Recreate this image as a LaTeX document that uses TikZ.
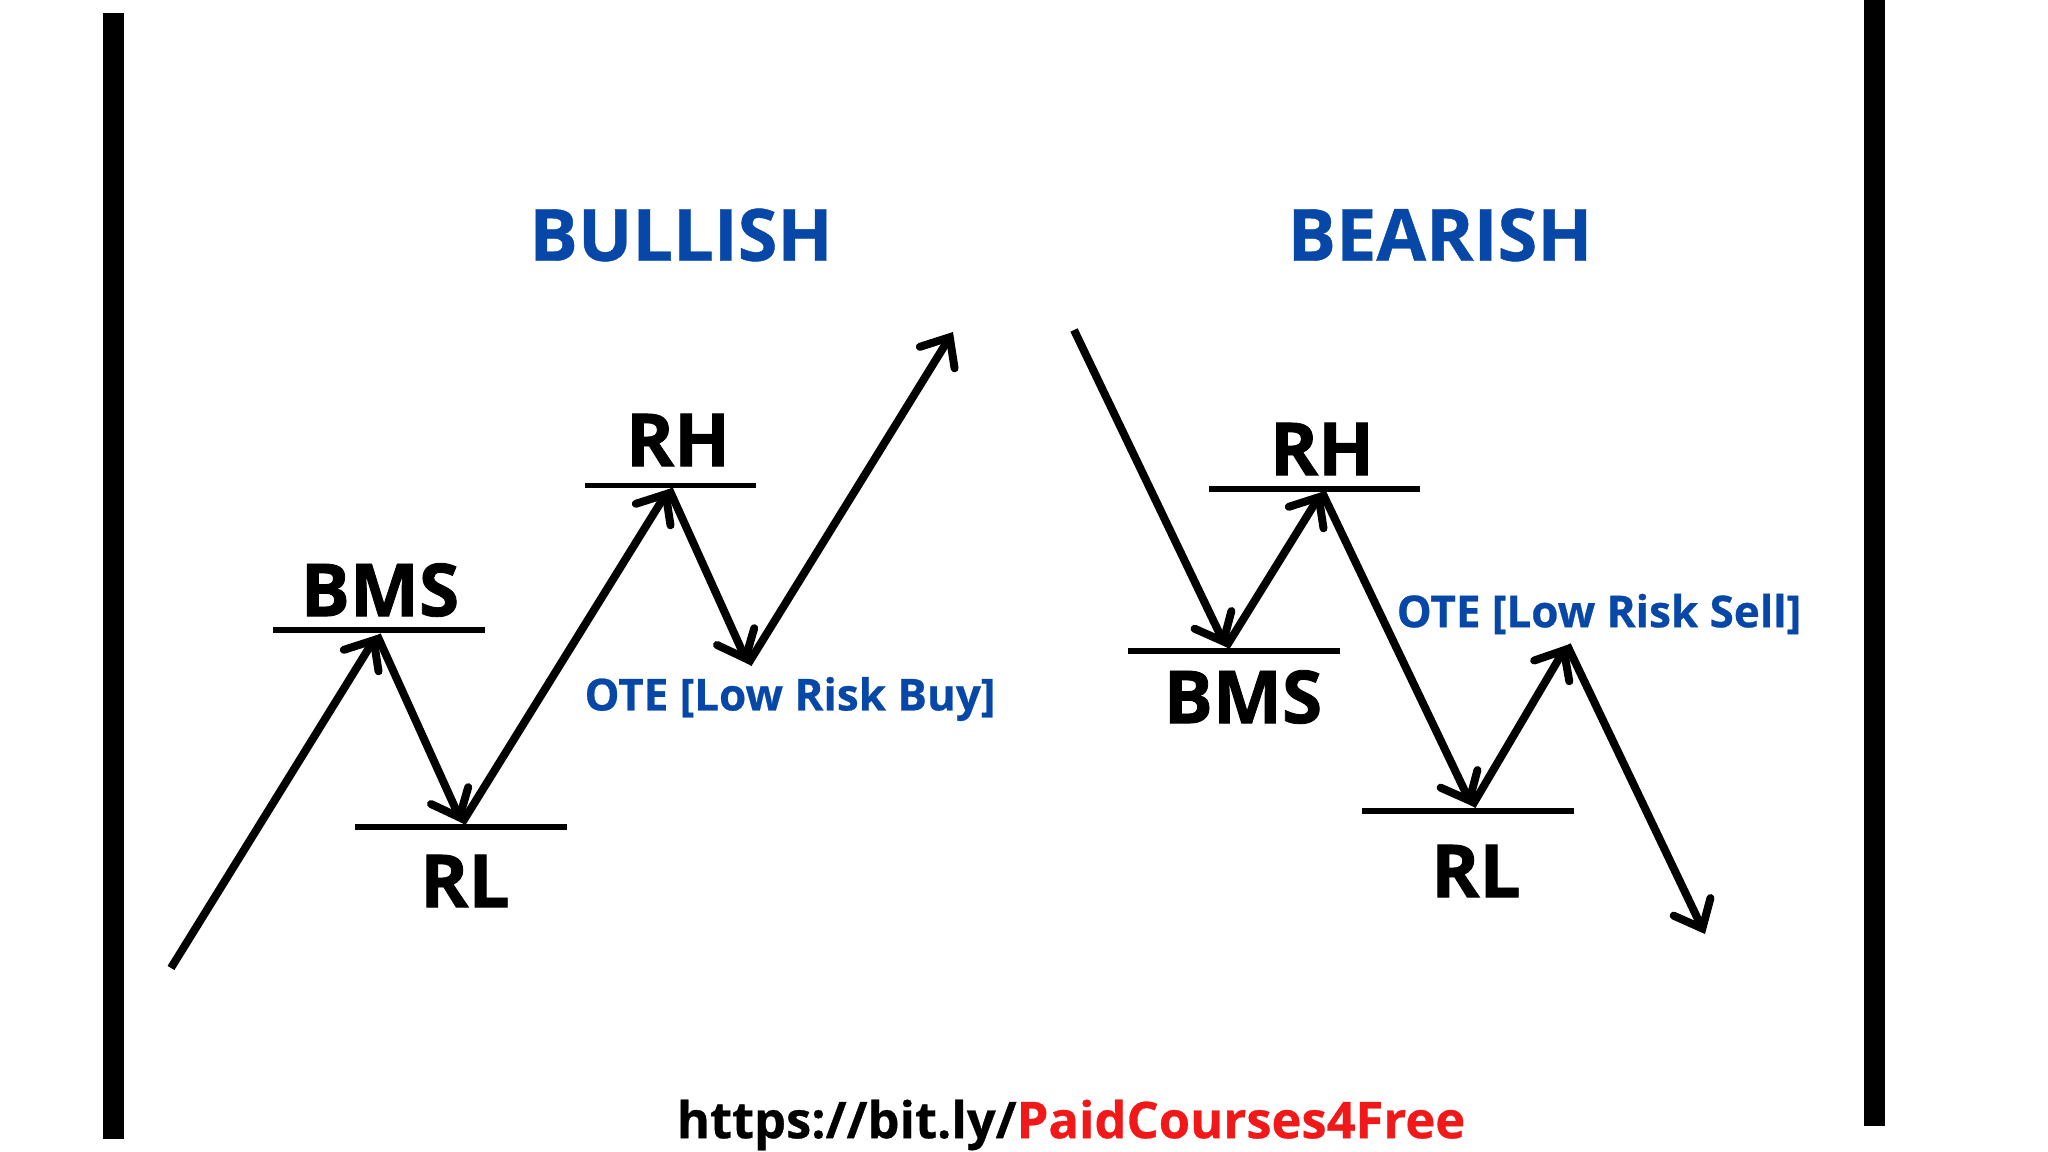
\documentclass[tikz,border=0pt]{standalone}
\usepackage{fontspec}
\setmainfont{Open Sans}
\newfontfamily\heavyfont[BoldFeatures={FakeBold=1.1}]{Open Sans}
\newfontfamily\thickfont[BoldFeatures={FakeBold=.6}]{Open Sans}
\usetikzlibrary{arrows.meta}
\definecolor{oteblue}{HTML}{0647A8}
\definecolor{urlred}{HTML}{F01818}
\tikzset{
  leg/.style={line width=2.27pt,line cap=butt,-{Straight Barb[length=6.8pt,width=11.6pt,line cap=round]}},
  lev/.style={line width=1.5pt},
  bar/.style={fill=black},
  big/.style={inner sep=0,font=\heavyfont\bfseries\fontsize{20.8}{24}\selectfont},
  head/.style={inner sep=0,text=oteblue,font=\thickfont\bfseries\fontsize{20.5}{24}\selectfont},
  ote/.style={inner sep=0,text=oteblue,font=\thickfont\bfseries\fontsize{12.5}{14}\selectfont},
  url/.style={inner sep=0,font=\thickfont\bfseries\fontsize{14.4}{16}\selectfont}
}
\begin{document}
\begin{tikzpicture}[x=.01cm,y=-.01cm]
\useasboundingbox (0,0) rectangle (2048,1152);
\fill[bar] (103,13) rectangle (124,1139);
\fill[bar] (1864,0) rectangle (1885,1126);
\node[head] at (681,235) {BULLISH};
\node[head] at (1440,235) {BEARISH};
% bullish side
\coordinate (s1) at (171,968); \coordinate (p1) at (377,635); \coordinate (p2) at (462,823);
\coordinate (p3) at (669,489); \coordinate (p4) at (748,664); \coordinate (p5) at (953,332);
\draw[leg] (s1) -- (p1); \draw[leg] (p1) -- (p2); \draw[leg] (p2) -- (p3);
\draw[leg] (p3) -- (p4); \draw[leg] (p4) -- (p5);
\coordinate (b1) at (273,630); \coordinate (b2) at (485,630);
\coordinate (l1) at (355,827); \coordinate (l2) at (567,827);
\coordinate (h1) at (585,485.5); \coordinate (h2) at (756,485.5);
\draw[lev] (b1) -- (b2); \draw[lev] (l1) -- (l2); \draw[lev] (h1) -- (h2);
\node[big] at (380,590) {BMS};
\node[big] at (465,881) {RL};
\node[big] at (678,440) {RH};
\node[ote] at (790,699) {OTE [Low Risk Buy]};
% bearish side
\coordinate (s2) at (1074,330); \coordinate (q1) at (1226,647); \coordinate (q2) at (1322,492);
\coordinate (q3) at (1472,806); \coordinate (q4) at (1567,645); \coordinate (q5) at (1705,934);
\draw[leg] (s2) -- (q1); \draw[leg] (q1) -- (q2); \draw[leg] (q2) -- (q3);
\draw[leg] (q3) -- (q4); \draw[leg] (q4) -- (q5);
\coordinate (m1) at (1128,651); \coordinate (m2) at (1340,651);
\coordinate (n1) at (1362,811); \coordinate (n2) at (1574,811);
\coordinate (k1) at (1209,489); \coordinate (k2) at (1420,489);
\draw[lev] (m1) -- (m2); \draw[lev] (n1) -- (n2); \draw[lev] (k1) -- (k2);
\node[big] at (1243,697) {BMS};
\node[big] at (1476,871) {RL};
\node[big] at (1322,449) {RH};
\node[ote] at (1599,614) {OTE [Low Risk Sell]};
\node[url] at (1071,1125) {https://bit.ly/\textcolor{urlred}{PaidCourses4Free}};
\end{tikzpicture}
\end{document}
